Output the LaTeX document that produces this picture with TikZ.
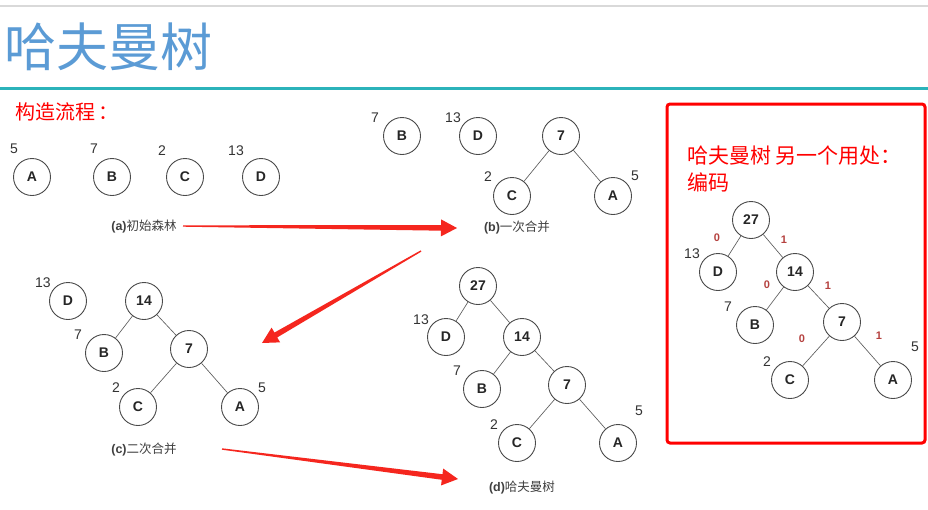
\documentclass[tikz,border=0pt]{standalone}
\usepackage{fontspec}
\setmainfont{Liberation Sans}
\newfontfamily\cjk{Noto Sans CJK SC}
\usetikzlibrary{calc}
\definecolor{titleblue}{HTML}{5B9BD5}
\definecolor{tealline}{HTML}{2BB3BA}
\definecolor{bitred}{HTML}{B5413F}
\definecolor{edgegray}{HTML}{4A4A4A}
\definecolor{arrred}{HTML}{F5261E}
% tapered red arrow between two named coordinates
\newcommand{\taperarrow}[2]{%
  \coordinate (tb) at ($(#2)!16pt!(#1)$);
  \fill[arrred] ($(#1)!0.7pt!90:(#2)$) -- ($(tb)!2.8pt!-90:(#1)$) -- ($(tb)!8.5pt!-90:(#1)$)
     -- (#2) -- ($(tb)!8.5pt!90:(#1)$) -- ($(tb)!2.8pt!90:(#1)$) -- ($(#1)!0.7pt!-90:(#2)$) -- cycle;
}
\begin{document}
\begin{tikzpicture}[x=1pt,y=-1pt,
  nd/.style={circle,draw=edgegray,line width=0.9pt,minimum size=37pt,inner sep=0pt,
    font=\fontsize{14}{14}\selectfont\bfseries,text=black!85},
  wt/.style={font=\fontsize{14}{14}\selectfont,text=black!80,inner sep=0pt},
  capn/.style={font=\fontsize{12.5}{13}\selectfont,text=black!75,inner sep=0pt},
  edge/.style={draw=edgegray!90,line width=0.65pt},
  bit/.style={font=\fontsize{11}{11}\selectfont\bfseries,text=bitred,inner sep=0pt},
  redtext/.style={font=\cjk\fontsize{21}{27}\selectfont,text=red,inner sep=0pt,align=left}
]
\useasboundingbox (0,0) rectangle (928,509);
\fill[white] (0,0) rectangle (928,509);
% header
\draw[black!15,line width=1.5pt] (0,6) -- (928,6);
\node[anchor=west,font=\cjk\fontsize{52}{54}\selectfont,text=titleblue,inner sep=0pt] (title) at (4,47) {哈夫曼树};
\draw[tealline,line width=3pt] (0,88) -- (928,88);
\node[redtext,anchor=west,font=\cjk\fontsize{20}{26}\selectfont] (steps) at (15,112) {构造流程\,：};

% (a)
\node[nd] (aA) at (32,177) {A};
\node[nd] (aB) at (112,177) {B};
\node[nd] (aC) at (185,177) {C};
\node[nd] (aD) at (261,177) {D};
\node[wt] (awA) at (14,149) {5};
\node[wt] (awB) at (94,149) {7};
\node[wt] (awC) at (162,151) {2};
\node[wt] (awD) at (236,151) {13};
\node[capn] (capa) at (144,227) {\textbf{(a)}{\cjk 初始森林}};

% (b)
\node[nd] (bB) at (402,136) {B};
\node[nd] (bD) at (478,136) {D};
\node[nd] (b7) at (561,136) {7};
\node[nd] (bC) at (512,196) {C};
\node[nd] (bA) at (613,196) {A};
\node[wt] (bwB) at (375,118) {7};
\node[wt] (bwD) at (453,118) {13};
\node[wt] (bwC) at (488,177) {2};
\node[wt] (bwA) at (635,176) {5};
\draw[edge] (b7) -- (bC);
\draw[edge] (b7) -- (bA);
\node[capn] (capb) at (517,228) {\textbf{(b)}{\cjk 一次合并}};

% (c)
\node[nd] (cD) at (68,301) {D};
\node[nd] (c14) at (144,301) {14};
\node[nd] (cB) at (104,353) {B};
\node[nd] (c7) at (189,349) {7};
\node[nd] (cC) at (138,407) {C};
\node[nd] (cA) at (240,407) {A};
\node[wt] (cwD) at (43,283) {13};
\node[wt] (cwB) at (78,335) {7};
\node[wt] (cwC) at (116,388) {2};
\node[wt] (cwA) at (262,388) {5};
\draw[edge] (c14) -- (cB);
\draw[edge] (c14) -- (c7);
\draw[edge] (c7) -- (cC);
\draw[edge] (c7) -- (cA);
\node[capn] (capc) at (144,450) {\textbf{(c)}{\cjk 二次合并}};

% (d)
\node[nd] (d27) at (478,286) {27};
\node[nd] (dD) at (446,337) {D};
\node[nd] (d14) at (522,337) {14};
\node[nd] (dB) at (482,389) {B};
\node[nd] (d7) at (567,385) {7};
\node[nd] (dC) at (517,443) {C};
\node[nd] (dA) at (618,443) {A};
\node[wt] (dwD) at (421,320) {13};
\node[wt] (dwB) at (457,371) {7};
\node[wt] (dwC) at (494,425) {2};
\node[wt] (dwA) at (639,411) {5};
\draw[edge] (d27) -- (dD);
\draw[edge] (d27) -- (d14);
\draw[edge] (d14) -- (dB);
\draw[edge] (d14) -- (d7);
\draw[edge] (d7) -- (dC);
\draw[edge] (d7) -- (dA);
\node[capn] (capd) at (522,488) {\textbf{(d)}{\cjk 哈夫曼树}};

% arrows
\coordinate (a1s) at (183,226);
\coordinate (a1e) at (457,228);
\coordinate (a2s) at (421,251);
\coordinate (a2e) at (262,343);
\coordinate (a3s) at (222,449);
\coordinate (a3e) at (458,479);
\taperarrow{a1s}{a1e}
\taperarrow{a2s}{a2e}
\taperarrow{a3s}{a3e}

% right box
\draw[red,line width=3pt,rounded corners=3pt] (667,104) rectangle (925,443);
\node[redtext,anchor=north west] (note) at (687,146) {哈夫曼树 另一个用处：\\编码};
\node[nd] (e27) at (751,220) {27};
\node[nd] (eD) at (718,272) {D};
\node[nd] (e14) at (795,272) {14};
\node[nd] (eB) at (755,325) {B};
\node[nd] (e7) at (842,322) {7};
\node[nd] (eC) at (790,380) {C};
\node[nd] (eA) at (893,380) {A};
\node[wt] (ewD) at (692,254) {13};
\node[wt] (ewB) at (728,307) {7};
\node[wt] (ewC) at (767,362) {2};
\node[wt] (ewA) at (915,347) {5};
\draw[edge] (e27) -- (eD);
\draw[edge] (e27) -- (e14);
\draw[edge] (e14) -- (eB);
\draw[edge] (e14) -- (e7);
\draw[edge] (e7) -- (eC);
\draw[edge] (e7) -- (eA);
\node[bit] (b1) at (717,238) {0};
\node[bit] (b2) at (784,240) {1};
\node[bit] (b3) at (767,285) {0};
\node[bit] (b4) at (828,286) {1};
\node[bit] (b5) at (802,339) {0};
\node[bit] (b6) at (879,336) {1};
\end{tikzpicture}
\end{document}
